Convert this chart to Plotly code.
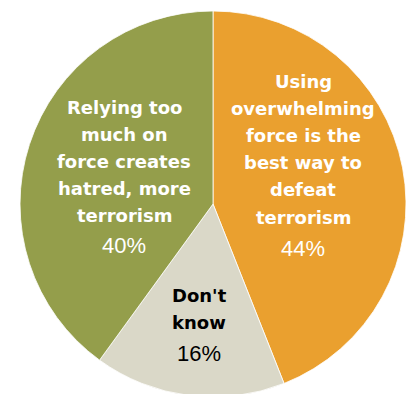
import plotly.graph_objects as go

# Survey responses
labels = [
    "Using<br>overwhelming<br>force is the<br>best way to<br>defeat<br>terrorism",
    "Don't<br>know",
    "Relying too<br>much on<br>force creates<br>hatred, more<br>terrorism",
]
values = [44, 16, 40]
colors = ["#EAA02F", "#DAD8C8", "#949E4B"]
text_colors = ["white", "black", "white"]

W, H = 406, 400

fig = go.Figure(
    go.Pie(
        labels=labels,
        values=values,
        sort=False,
        direction="clockwise",
        rotation=0,
        marker=dict(colors=colors, line=dict(color="white", width=0.8)),
        textinfo="none",
        hoverinfo="label+percent",
        showlegend=False,
        domain=dict(x=[20 / W, 1.0], y=[3 / H, 389 / H]),
    )
)

# label placement: (centre x, first line y, line step, percent y) in pixels
placements = [
    (303, 81, 27.2, 248),
    (199, 295, 27, 353),
    (124, 107, 27.2, 245),
]

annotations = []
for lab, val, col, (cx, y0, step, py) in zip(labels, values, text_colors, placements):
    for i, line in enumerate(lab.split("<br>")):
        annotations.append(dict(
            x=cx / W, y=1 - (y0 + i * step) / H, xref="paper", yref="paper",
            text=line, showarrow=False, xanchor="center", yanchor="middle",
            font=dict(family="DejaVu Sans", size=18, color=col, weight="bold"),
        ))
    annotations.append(dict(
        x=cx / W, y=1 - py / H, xref="paper", yref="paper",
        text=f"{val}%", showarrow=False, xanchor="center", yanchor="middle",
        font=dict(family="Liberation Sans", size=22, color=col),
    ))

fig.update_layout(
    width=W, height=H,
    margin=dict(l=0, r=0, t=0, b=0),
    paper_bgcolor="white",
    plot_bgcolor="white",
    annotations=annotations,
)

fig.write_html(
    "out.html",
    post_script="document.body.style.margin='0';document.body.style.overflow='hidden';",
)
